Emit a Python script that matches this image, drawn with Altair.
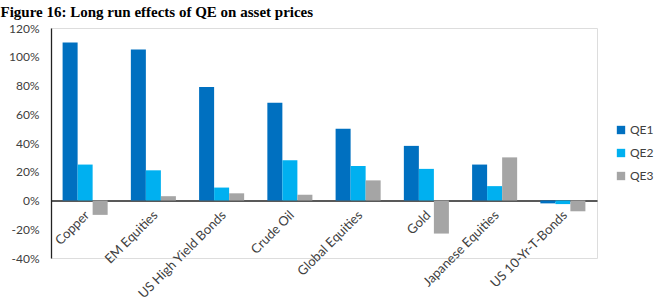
import altair as alt
import pandas as pd

categories = ["Copper", "EM Equities", "US High Yield Bonds", "Crude Oil",
              "Global Equities", "Gold", "Japanese Equities", "US 10-Yr-T-Bonds"]
qe1 = [110, 105, 79, 68, 50, 38, 25, -2]
qe2 = [25, 21, 9, 28, 24, 22, 10, -2.5]
qe3 = [-10, 3, 5, 4, 14, -23, 30, -7.5]
series = ["QE1", "QE2", "QE3"]
colors = ["#0070C0", "#00B0F0", "#A5A5A5"]

rows = []
for i, c in enumerate(categories):
    for s, vals in zip(series, [qe1, qe2, qe3]):
        rows.append({"asset": c, "series": s, "value": vals[i]})
df = pd.DataFrame(rows)

chart = alt.Chart(df).mark_bar().encode(
    x=alt.X("asset:N", sort=categories,
            scale=alt.Scale(paddingInner=0.34, paddingOuter=0.17),
            axis=alt.Axis(title=None, labelAngle=315, labelFontSize=13,
                          labelFont="Lato", labelColor="#404040",
                          ticks=False, domainColor="#222222", domainWidth=1.3,
                          offset=-57.5, labelPadding=8, labelOffset=-2,
                          labelOverlap=False)),
    xOffset=alt.XOffset("series:N", sort=series, scale=alt.Scale(paddingInner=0, paddingOuter=0)),
    y=alt.Y("value:Q", scale=alt.Scale(domain=[-40, 120], nice=False),
            axis=alt.Axis(title=None, values=[-40, -20, 0, 20, 40, 60, 80, 100, 120],
                          labelExpr="datum.value + '%'", grid=False, ticks=False,
                          labelFontSize=12, labelFont="Lato", labelColor="#404040",
                          domainColor="#222222", domainWidth=1.3, labelPadding=12)),
    color=alt.Color("series:N", sort=series,
                    scale=alt.Scale(domain=series, range=colors),
                    legend=alt.Legend(title=None, orient="none", legendX=564, legendY=96,
                                      symbolType="square", symbolSize=70,
                                      symbolStrokeWidth=0, labelFontSize=12,
                                      labelFont="Lato", labelColor="#404040",
                                      rowPadding=11, labelOffset=3)),
).properties(
    width=546, height=230,
    title=alt.TitleParams("Figure 16: Long run effects of QE on asset prices",
                          anchor="start", dx=-8, font="Liberation Serif",
                          fontSize=15, fontWeight="bold", color="#000000",
                          offset=2),
    autosize=alt.AutoSizeParams(type="none"),
    padding={"left": 51, "top": 28, "right": 72, "bottom": 42},
).configure_view(stroke=None).configure(background="white")

chart.save("out.html", embed_options={"renderer": "svg", "actions": False})
